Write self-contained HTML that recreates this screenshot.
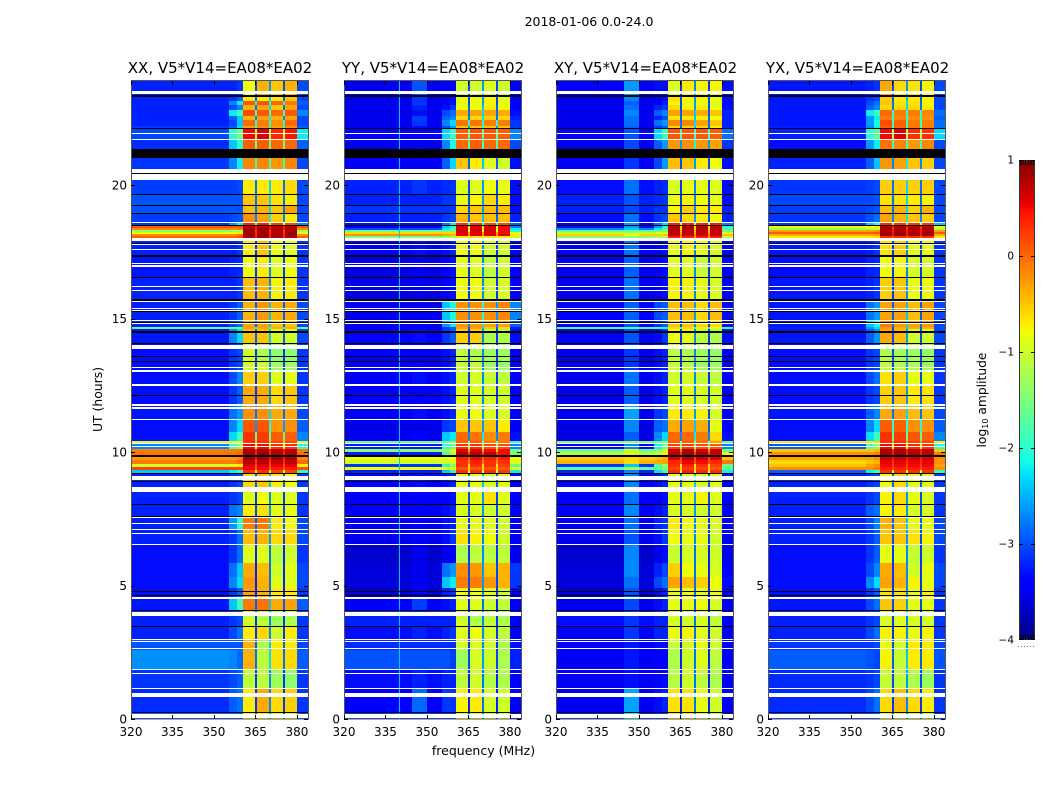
<!DOCTYPE html>
<html lang="en">
<head>
<meta charset="utf-8">
<title>2018-01-06 0.0-24.0 amplitude spectrograms</title>
<style>
html,body{margin:0;padding:0;background:#fff;}
svg{display:block;font-family:"DejaVu Sans","Liberation Sans",sans-serif;}
</style>
</head>
<body>
<svg id="fig" width="1050" height="800" viewBox="0 0 1050 800" xmlns="http://www.w3.org/2000/svg">
  <rect x="0" y="0" width="1050" height="800" fill="#ffffff"/>
  <text x="589" y="26" font-size="12.5" text-anchor="middle" fill="#000">2018-01-06 0.0-24.0</text>
  <text x="220" y="73" font-size="15" text-anchor="middle" fill="#000">XX, V5*V14=EA08*EA02</text>
  <text x="433" y="73" font-size="15" text-anchor="middle" fill="#000">YY, V5*V14=EA08*EA02</text>
  <text x="645.5" y="73" font-size="15" text-anchor="middle" fill="#000">XY, V5*V14=EA08*EA02</text>
  <text x="857.5" y="73" font-size="15" text-anchor="middle" fill="#000">YX, V5*V14=EA08*EA02</text>
  <text x="483.5" y="755" font-size="12.5" text-anchor="middle" fill="#000">frequency (MHz)</text>
  <text transform="translate(102,399.5) rotate(-90)" font-size="12.4" text-anchor="middle" fill="#000">UT (hours)</text>
  <text transform="translate(986,400) rotate(-90)" font-size="12.3" text-anchor="middle" fill="#000">log<tspan font-size="8" dy="2">10</tspan><tspan dy="-2"> amplitude</tspan></text>
  <g id="panels"></g>
  <g id="colorbar"></g>
</svg>
<script>
// UT hour boundaries of the level rows, newest at the top of the plot
const utEdges=[23.9,23.3,23.15,23,22.81,22.58,22.43,22.21,22.1,21.72,21.01,20.6,19.66,19.21,18.95,18.61,18.46,18.39,18.31,18.24,18.16,18.09,18.01,17.9,17.34,16.55,15.69,14.94,14.68,14.59,14.08,13.41,13.07,12.51,11.76,11.2,10.75,10.41,10.3,10.11,10,9.85,9.7,9.55,9.44,9.33,9.21,8.5,8.05,7.57,7.12,6.52,5.84,5.32,4.91,4.57,4.08,3.48,2.96,2.58,1.87,1.16,0.26,0];
// Frequency boundaries (MHz): background, two skirt columns, band 1, slit, band 2, slit, band 3, slit, band 4, outer
const freqEdges=[320,355.5,358.5,360.6,365,365.7,370,370.6,374.9,375.6,379.9,384];
// Each row: background, skirt A, skirt B, band 1-4, outer, slit (log10 amplitude)
const xxLevels=[
[-3.1,-3.1,-3,-.8,-.4,-.5,-.4,-2.9,-2.5],[-3.1,-3,-2.8,-.7,-.7,-.7,-.5,-2.9,-2.4],[-3.1,-2.6,-2.2,.1,.1,0,-.1,-2.8,-2],[-3.1,-2.9,-2.6,-.4,-.3,-.5,-.3,-2.9,-2.3],
[-3.1,-2.2,-1.9,.15,.1,0,.1,-2.6,-1.8],[-3.1,-2.8,-2.4,-.4,-.3,-.4,-.3,-2.9,-2.2],[-3.1,-2.9,-2.4,0,-.1,-.2,0,-2.9,-2],[-3,-2.8,-2.3,-.3,-.2,-.3,-.2,-2.8,-2],
[-2.9,-2,-1.6,.5,.6,.35,.45,-2.2,-1],[-3.05,-2.4,-2,.05,.05,0,0,-2.8,-1.6],[-3,-2.6,-2.2,-.15,-.15,-.25,-.15,-2.9,-1.9],[-2.95,-2.95,-2.9,-.7,-.7,-.7,-.6,-2.9,-2.3],
[-2.85,-2.85,-2.85,-.5,-.5,-.65,-.7,-2.9,-2.3],[-2.85,-2.85,-2.85,-.45,-.4,-.5,-.3,-2.9,-2.3],[-2.95,-2.9,-2.85,-.2,-.3,-.55,-.7,-2.9,-2.2],[-3,-2.5,-2.2,.4,.4,.25,.2,-2.6,-1],
[.1,.1,.1,.8,.8,.75,.75,.1,.4],[-.2,-.2,-.1,.8,.85,.75,.8,-.2,.4],[-1.4,-1.3,-1.2,.85,.85,.8,.85,-1.3,.3],[-.8,-.8,-.7,.85,.85,.8,.85,-.8,.3],
[-.2,-.2,-.1,.85,.85,.8,.85,-.2,.4],[.05,.05,.1,.8,.85,.8,.8,.05,.3],[-2.6,-2.6,-2.5,-.6,-.5,-.8,-.8,-2.6,-1.5],[-3.1,-3.1,-3,-.7,-.5,-.8,-.9,-3,-2.6],
[-3.15,-3.1,-3.05,-.8,-.7,-.9,-.8,-3,-2.6],[-3.1,-3.1,-3,-.45,-.4,-.75,-.7,-3,-2.6],[-3.1,-3,-2.8,-.4,-.25,-.4,-.35,-2.9,-2.4],[-3.1,-2.9,-2.7,-.3,-.3,-.5,-.5,-2.9,-2.4],
[-1.6,-1.6,-1.6,-.3,-.3,-.4,-.4,-1.6,-1.8],[-3.15,-2.6,-2.3,-.5,-.5,-.95,-1,-2.9,-2.4],[-3.2,-3,-2.9,-1,-1.2,-1.4,-1.4,-3,-2.6],[-3.2,-3,-2.9,-.95,-1,-1.3,-1.3,-3,-2.5],
[-3.2,-2.9,-2.6,-.55,-.55,-.9,-.85,-3,-2.6],[-3.2,-3,-2.8,-.35,-.35,-.6,-.5,-3,-2.6],[-3.15,-2.7,-2.5,-.2,-.2,-.35,-.35,-2.9,-2.3],[-3.2,-2.6,-2.3,.1,.1,-.25,-.2,-2.8,-2.1],
[-3.2,-2.3,-1.9,.3,.25,.05,.05,-2.6,-1.7],[-.9,-.9,-.8,.3,.3,.15,.15,-.9,-.4],[-2.6,-1.8,-1.4,.5,.5,.3,.3,-2,-1],[-.1,-.1,-.05,.85,.85,.75,.75,-.1,.4],
[-.05,-.05,0,.85,.9,.8,.8,0,.4],[-.25,-.25,-.15,.85,.85,.85,.8,-.15,.4],[-.1,-.1,0,.75,.75,.7,.7,0,.3],[-1,-.9,-.7,.6,.6,.55,.55,-.7,.1],
[.2,.2,.2,.5,.5,.4,.4,.15,.1],[-2.4,-2.2,-1.9,.3,.3,.2,.2,-2,-.8],[-3.1,-3,-2.9,-.6,-.5,-.7,-.8,-3,-2.4],[-3.1,-3,-2.9,-.9,-.8,-.9,-.9,-3,-2.6],
[-3.1,-2.7,-2.6,-.7,-.65,-.85,-.85,-3,-2.5],[-3.1,-2.5,-2,-.1,-.1,-.7,-.8,-2.9,-2.4],[-3.1,-3,-2.7,-.45,-.4,-.6,-.6,-2.9,-2.5],[-3.2,-3,-2.7,-.9,-.9,-1.1,-1,-3,-2.7],
[-3.2,-2.7,-2.4,-.35,-.45,-1,-.9,-2.9,-2.7],[-3.2,-2.6,-2.3,-.25,-.4,-.9,-.9,-2.9,-2.7],[-3.2,-3,-2.8,-.3,-.4,-.7,-.7,-3,-2.7],[-3.15,-2.4,-1.9,-.1,-.05,-.35,-.3,-2.8,-2.4],
[-3.1,-3,-2.9,-1,-1.1,-1.3,-1.2,-3,-2.6],[-3.1,-2.9,-2.7,-.7,-.6,-1,-.7,-3,-2.6],[-2.85,-2.85,-2.85,-.4,-1.2,-.7,-.7,-2.9,-2.4],[-2.55,-2.6,-2.75,-.4,-1.1,-.65,-.6,-2.8,-2.3],
[-3,-2.9,-2.8,-1.1,-1.1,-1.3,-1.4,-3,-2.6],[-3.05,-2.8,-2.7,-.7,-.35,-.6,-.55,-3,-2.6],[-2.75,-2.75,-2.75,-.8,-.8,-.9,-1,-2.85,-2.5]
];
const yyLevels=[
[-3.4,-3.3,-3.3,-1,-1,-.9,-1,-3.3,-2.5],[-3.4,-3.3,-3.2,-.85,-.85,-.75,-.85,-3.3,-2.5],[-3.4,-3.3,-3.2,-.85,-.85,-.75,-.85,-3.3,-2.5],[-3.4,-3.2,-3,-.8,-.8,-.7,-.8,-3.3,-2.4],
[-3.4,-2.9,-2.7,-.35,-.3,-.3,-.35,-3.2,-2.3],[-3.4,-2.8,-2.6,-.6,-.6,-.55,-.6,-3.1,-2.3],[-3.4,-2.6,-2.3,-.05,-.05,-.1,-.1,-3,-2],[-3.4,-2.9,-2.5,-.5,-.5,-.5,-.5,-3,-2.1],
[-3.3,-2.3,-1.9,.05,.1,.1,.05,-2.6,-1.6],[-3.4,-2.6,-2.1,0,.05,0,0,-2.9,-1.8],[-3.35,-2.8,-2.3,-.5,-.7,-.9,-1,-3.2,-2.4],[-3.1,-3.05,-3,-.9,-.9,-.8,-.85,-3.2,-2.5],
[-3.1,-3,-3,-.85,-.75,-.6,-.7,-3.2,-2.5],[-3,-3,-3,-.6,-.5,-.45,-.45,-3.2,-2.5],[-3.1,-3,-2.9,-.4,-.5,-.45,-.45,-3.1,-2.4],[-3.2,-2.7,-2.2,.3,.3,.2,.2,-2.8,-1.5],
[-3.3,-2.4,-2,.6,.6,.6,.5,-2.6,-1],[-2.9,-2.2,-1.8,.6,.6,.6,.5,-2.2,-1],[-1.6,-1.6,-1.5,.6,.6,.6,.5,-2,-.8],[-.6,-.6,-.6,.6,.6,.6,.5,-.8,-.3],
[-.2,-.3,-.4,.6,.6,.6,.6,-.7,-.2],[-1.5,-1.4,-1.2,-.7,-.7,-.7,-.7,-1,-.7],[-3,-3,-3,-.9,-.9,-.9,-.9,-3.1,-2.2],[-3.3,-3.2,-3.1,-.8,-.8,-1,-1,-3.3,-2.6],
[-3.45,-3.3,-3.2,-.85,-.9,-1.1,-1,-3.3,-2.6],[-3.45,-3.3,-3.2,-.8,-.8,-1,-.95,-3.3,-2.6],[-3.4,-2.4,-2.1,-.2,-.2,-.2,-.15,-2.6,-2.1],[-3.4,-2.5,-2.2,-.25,-.25,-.3,-.3,-2.8,-2.2],
[-3.35,-3,-2.8,-.3,-.3,-.5,-.6,-3.1,-2.4],[-3.3,-3,-2.8,-.55,-.55,-1.2,-1.2,-3.2,-2.6],[-3.3,-3.2,-3.1,-1.1,-1.2,-1.3,-1.3,-3.3,-2.6],[-3.35,-3.2,-3.1,-1.05,-1.05,-1.3,-1.35,-3.3,-2.6],
[-3.35,-3.2,-3.1,-1,-.95,-1.05,-1.1,-3.3,-2.6],[-3.35,-3.2,-3.1,-.9,-.9,-.95,-1,-3.3,-2.6],[-3.35,-3.2,-3.1,-.85,-.8,-.9,-.95,-3.3,-2.6],[-3.4,-3,-2.9,-.5,-.5,-.5,-.7,-3.3,-2.5],
[-3.4,-2.4,-2.2,0,-.05,-.2,-.1,-3.2,-2.2],[-1.6,-1.6,-1.4,.05,.05,-.1,-.1,-1.9,-1.2],[-3.1,-2,-1.6,.3,.3,.15,.15,-2.6,-1.3],[-1.4,-1.2,-.9,.6,.6,.5,.5,-1.5,-.5],
[-3.1,-1.8,-1.2,.75,.75,.7,.5,-1.6,.2],[-.8,-.8,-.8,.4,.5,.4,.4,-.8,0],[-1,-1,-1,.3,.4,.3,.3,-.9,-.2],[-3,-2,-1.4,.3,.3,.3,.2,-1.6,-.7],
[-.8,-.8,-.8,.1,.1,.1,.05,-.9,-.5],[-3.1,-2.4,-2,.3,.3,.3,.25,-2.2,-.9],[-3.3,-3.2,-3.1,-.85,-.85,-.95,-.9,-3.3,-2.4],[-3.35,-3.3,-3.2,-.85,-.85,-.65,-.9,-3.3,-2.5],
[-3.35,-3.2,-3.1,-.95,-.95,-1,-1,-3.3,-2.5],[-3.4,-3.2,-3.1,-.85,-.85,-.9,-1,-3.3,-2.6],[-3.4,-3.2,-3,-.65,-.75,-.8,-1,-3.3,-2.6],[-3.55,-3.4,-3.3,-1.2,-1.1,-1.1,-1.1,-3.4,-2.6],
[-3.5,-2.7,-2.5,-.2,-.25,-.5,-.4,-3,-2.5],[-3.5,-2.4,-2.2,-.1,-.1,-.25,-.4,-3,-2.5],[-3.5,-3.1,-3,-.8,-.8,-.9,-1,-3.3,-2.6],[-3.3,-3.2,-3.1,-.9,-.9,-1,-1.1,-3.3,-2.7],
[-3.1,-3.1,-3.1,-1,-1.2,-1.1,-1.2,-3.3,-2.6],[-3.2,-3.1,-3,-.9,-.8,-.95,-1.1,-3.3,-2.6],[-3.05,-3.05,-3.05,-1,-.95,-1,-1.2,-3.2,-2.6],[-2.85,-2.85,-2.95,-1.3,-.95,-1,-1.2,-3.1,-2.5],
[-3.2,-3.1,-3.1,-1.1,-1,-1.15,-1.2,-3.3,-2.7],[-3.35,-3,-3,-.75,-.7,-.95,-1,-3.3,-2.7],[-2.95,-3,-3,-.8,-.9,-.9,-.9,-3.2,-2.6]
];
const xyLevels=[
[-3.3,-3.2,-3.2,-.9,-.7,-.75,-.75,-3.2,-2.6],[-3.4,-3.3,-3.2,-.65,-.75,-.75,-.85,-3.2,-2.5],[-3.4,-3.3,-3.1,-.75,-.85,-.85,-.9,-3.2,-2.5],[-3.4,-3.1,-3,-.6,-.75,-.7,-.85,-3.2,-2.5],
[-3.4,-2.8,-2.6,-.3,-.3,-.35,-.5,-3.1,-2.4],[-3.4,-3.1,-2.9,-.7,-.7,-.7,-.8,-3.1,-2.4],[-3.4,-2.7,-2.5,-.15,-.15,-.3,-.5,-3.1,-2.3],[-3.4,-3,-2.8,-.6,-.6,-.6,-.7,-3.1,-2.4],
[-3.3,-2.3,-1.9,.1,.1,.1,.05,-2.7,-1.8],[-3.4,-2.8,-2.5,-.25,-.2,-.25,-.3,-3,-2.1],[-3.35,-2.9,-2.5,-.45,-.5,-.7,-.8,-3.2,-2.5],[-3.2,-3.1,-3.05,-.95,-.85,-.85,-.9,-3.2,-2.6],
[-3.1,-3.05,-3,-.85,-.75,-.8,-.85,-3.2,-2.6],[-3.1,-3,-3,-.75,-.55,-.7,-.7,-3.1,-2.6],[-3.2,-3,-2.9,-.5,-.6,-.7,-.8,-3.1,-2.5],[-3.3,-2.7,-2.3,.4,.4,.4,.4,-2.6,-1.2],
[-3.2,-2.5,-2.1,.75,.75,.75,.7,-2,-.6],[-2.6,-2.2,-1.8,.75,.75,.75,.7,-1.8,-.6],[-1.7,-1.6,-1.4,.75,.75,.75,.7,-1.5,-.5],[-1,-1,-.9,.7,.7,.7,.7,-.9,-.3],
[-.55,-.55,-.5,.7,.7,.7,.65,-.5,-.1],[-1.4,-1.3,-1.2,.4,.4,.4,.4,-1.1,-.3],[-3.1,-3,-3,-.85,-.85,-.85,-.85,-3.1,-2.4],[-3.3,-3.3,-3.2,-.85,-.75,-.85,-.95,-3.3,-2.6],
[-3.4,-3.3,-3.2,-.9,-.9,-1.05,-1,-3.3,-2.6],[-3.4,-3.3,-3.2,-.75,-.75,-.85,-.95,-3.3,-2.6],[-3.3,-2.9,-2.8,-.45,-.45,-.6,-.45,-3.2,-2.5],[-3.3,-3,-2.8,-.5,-.5,-.6,-.6,-3.2,-2.5],
[-1.8,-1.9,-2,-.6,-.6,-.7,-.8,-1.9,-2],[-3.35,-3.2,-3,-.8,-.85,-1.1,-1.2,-3.2,-2.6],[-3.4,-3.2,-3.1,-1.1,-1.2,-1.3,-1.35,-3.3,-2.6],[-3.4,-3.2,-3.1,-1.05,-1.1,-1.3,-1.3,-3.3,-2.6],
[-3.4,-3.2,-3.1,-1,-.95,-1.05,-1.1,-3.3,-2.6],[-3.4,-3.2,-3.1,-.9,-.9,-.95,-1,-3.3,-2.6],[-3.4,-3,-2.9,-.7,-.7,-.75,-.95,-3.3,-2.5],[-3.45,-2.8,-2.7,-.35,-.3,-.35,-.85,-3.3,-2.4],
[-3.45,-2.6,-2.3,0,0,-.1,-.6,-3.2,-2.2],[-1.5,-1.5,-1.3,.05,.05,-.05,-.3,-1.6,-1.1],[-3.3,-2.2,-1.6,.2,.25,.15,.1,-2.6,-1.4],[-1.6,-1.4,-1,.7,.8,.65,.7,-1.5,-.2],
[-1.2,-1.1,-.7,.75,.85,.8,.7,-.8,.2],[-.55,-.5,-.4,.6,.8,.7,.6,-.5,.2],[-.4,-.35,-.3,.35,.55,.5,.35,-.1,.1],[-3,-1.8,-1.3,.3,.4,.3,.2,-1.6,-.6],
[-1.7,-1.6,-1.5,.2,.25,.2,.1,-1.7,-.5],[-3.1,-2.3,-1.9,.35,.4,.35,.3,-2.2,-.9],[-3.3,-3.2,-3.1,-.85,-.85,-.95,-.9,-3.3,-2.4],[-3.35,-3.3,-3.2,-.85,-.85,-.75,-.9,-3.3,-2.5],
[-3.35,-3.2,-3.1,-.95,-.95,-1,-1,-3.3,-2.5],[-3.4,-3.1,-3,-.7,-.8,-.85,-.95,-3.3,-2.6],[-3.4,-3.2,-3,-.8,-.85,-.85,-1,-3.3,-2.6],[-3.55,-3.4,-3.2,-1.05,-.95,-.95,-1,-3.4,-2.7],
[-3.5,-3.1,-2.9,-.55,-.8,-.85,-.95,-3.3,-2.7],[-3.5,-2.9,-2.7,-.3,-.45,-.55,-.8,-3.2,-2.7],[-3.5,-3.2,-3.1,-.85,-.8,-.85,-.85,-3.3,-2.7],[-3.4,-3.2,-3.1,-.85,-.85,-.8,-.95,-3.3,-2.8],
[-3.2,-3.1,-3.1,-.95,-1,-.95,-1.1,-3.3,-2.7],[-3.3,-3.1,-3.1,-.85,-.75,-.9,-1,-3.3,-2.7],[-3.3,-3.2,-3.2,-1.05,-.95,-.85,-1,-3.3,-2.7],[-3.35,-3.25,-3.25,-1.2,-1,-.9,-1.1,-3.3,-2.7],
[-3.35,-3.25,-3.2,-1.15,-1,-1.1,-1.2,-3.3,-2.7],[-3.4,-3.2,-3.1,-.65,-.65,-.85,-1,-3.3,-2.7],[-3.1,-3,-3,-.7,-.7,-.85,-.95,-3.2,-2.6]
];
const yxLevels=[
[-3.15,-3.1,-3,-.35,-.6,-.65,-.75,-2.9,-2.5],[-3.15,-3,-2.9,-.55,-.7,-.7,-.75,-2.9,-2.4],[-3.15,-2.9,-2.7,-.5,-.65,-.65,-.75,-2.9,-2.3],[-3.15,-2.8,-2.6,-.6,-.6,-.6,-.7,-2.9,-2.3],
[-3.15,-2.2,-1.9,0,-.1,-.1,-.15,-2.7,-1.9],[-3.15,-2.5,-2.2,-.1,-.15,-.2,-.2,-2.8,-2],[-3.15,-2.5,-2.1,.15,.05,-.1,-.1,-2.7,-1.9],[-3.1,-2.6,-2.2,.05,0,-.1,-.1,-2.7,-1.8],
[-3.1,-2,-1.7,.5,.6,.3,.3,-2.3,-1.2],[-3.2,-2.5,-2.2,-.05,-.15,-.25,-.15,-2.9,-1.9],[-3.1,-2.8,-2.4,-.25,-.3,-.5,-.55,-2.9,-2.2],[-3,-2.95,-2.9,-.55,-.55,-.55,-.55,-2.9,-2.3],
[-2.9,-2.9,-2.85,-.65,-.65,-.7,-.75,-2.9,-2.3],[-2.95,-2.9,-2.85,-.45,-.4,-.55,-.4,-2.9,-2.3],[-3,-2.85,-2.7,-.3,-.4,-.5,-.55,-2.9,-2.2],[-3,-2.4,-2,.3,.3,.25,.25,-2.4,-1],
[-.8,-.8,-.7,.8,.8,.75,.75,-.9,.3],[-1.3,-1.2,-1,.8,.8,.75,.8,-1.2,.3],[-.3,-.3,-.2,.8,.85,.8,.8,-.3,.4],[.05,.05,.1,.85,.85,.8,.85,.05,.4],
[-.35,-.35,-.3,.85,.85,.8,.85,-.35,.4],[-.7,-.7,-.6,.3,.3,.3,.3,-.7,.1],[-2.8,-2.8,-2.7,-.4,-.4,-.7,-.7,-2.8,-1.8],[-3.15,-3.1,-3,-.65,-.55,-.85,-.85,-3,-2.6],
[-3.2,-3.1,-3.05,-.8,-.75,-.95,-.95,-3,-2.6],[-3.15,-3.1,-3,-.55,-.5,-.85,-.8,-3,-2.6],[-3.15,-2.7,-2.5,-.3,-.3,-.45,-.3,-2.9,-2.4],[-3.15,-2.4,-2.1,-.1,-.25,-.3,-.25,-2.9,-2.3],
[-3.1,-2.5,-2.3,-.25,-.35,-.35,-.4,-2.9,-2.4],[-3.15,-2.8,-2.5,-.35,-.45,-1,-1,-2.9,-2.5],[-3.2,-3,-2.9,-1.2,-1.25,-1.3,-1.35,-3,-2.5],[-3.2,-3,-2.9,-1.1,-1.15,-1.2,-1.3,-3,-2.5],
[-3.2,-2.9,-2.7,-.65,-.55,-.85,-.85,-3,-2.5],[-3.2,-3,-2.9,-.55,-.5,-.7,-.65,-3,-2.5],[-3.15,-2.8,-2.6,-.35,-.3,-.45,-.5,-2.9,-2.3],[-3.2,-2.6,-2.3,.05,.05,-.2,-.2,-2.8,-2],
[-3.2,-2.3,-1.9,.3,.25,.1,.05,-2.6,-1.7],[-.7,-.7,-.6,.3,.3,.2,.15,-.7,-.3],[-2.8,-1.8,-1.4,.5,.5,.35,.3,-2,-1],[-.5,-.5,-.4,.85,.85,.75,.75,-.5,.4],
[-.2,-.2,-.1,.85,.85,.8,.75,-.1,.4],[-.3,-.3,-.2,.7,.7,.65,.65,-.2,.4],[-.6,-.5,-.4,.55,.55,.55,.55,-.2,.3],[-.5,-.3,-.2,.5,.5,.5,.5,-.3,.2],
[-.2,-.2,-.1,.4,.4,.4,.4,-.2,.2],[-2.8,-2.2,-1.8,.3,.3,.3,.3,-2,-.9],[-3.1,-3,-2.9,-.8,-.6,-.85,-.9,-3,-2.4],[-3.1,-3,-2.9,-.75,-.6,-.85,-.95,-3,-2.5],
[-3.1,-2.8,-2.7,-.75,-.7,-.95,-.95,-3,-2.5],[-3.1,-2.9,-2.6,-.4,-.5,-.85,-.85,-2.9,-2.4],[-3.1,-3,-2.8,-.5,-.5,-.65,-.75,-2.9,-2.5],[-3.2,-3,-2.8,-.85,-.85,-1.05,-1,-3,-2.6],
[-3.2,-2.9,-2.6,-.35,-.45,-1,-.85,-2.9,-2.6],[-3.2,-2.6,-2.3,-.3,-.4,-.75,-.85,-2.9,-2.6],[-3.2,-3,-2.8,-.65,-.65,-.85,-.75,-3,-2.6],[-3.15,-2.9,-2.7,-.5,-.55,-.85,-.85,-3,-2.5],
[-3.1,-3,-2.9,-.95,-.9,-.95,-1,-3,-2.6],[-3.1,-2.9,-2.7,-.75,-.75,-.85,-.75,-3,-2.6],[-3,-3,-2.9,-.85,-1,-.7,-.7,-2.9,-2.5],[-2.8,-2.85,-2.9,-.75,-1.05,-.7,-.7,-2.85,-2.4],
[-3.05,-3,-2.9,-1.05,-1.1,-1.2,-1.3,-3,-2.5],[-3.05,-2.9,-2.7,-.6,-.45,-.6,-.7,-3,-2.6],[-2.9,-2.9,-2.8,-.8,-.8,-.9,-1,-3,-2.5]
];
// Levels of the 344.5-350 MHz interference patch, one per row
const patchEdges=[344.5,350];
const xyPatchLevels=[-2.5,-2.6,-2.8,-2.7,-2.6,-2.7,-2.7,-2.8,-2.85,-2.9,-3,-2.7,-2.85,-2.9,-2.7,-2.5,-2.45,-2.35,-1.6,-1.2,-.8,-1.4,-2.7,-2.7,-2.8,-2.7,-2.8,-2.85,-1.8,-2.85,-3,-3,-2.7,-2.8,-2.45,-2.6,-2.8,-1.3,-2.6,-.9,-1,-.6,-.6,-2.4,-1.2,-2.6,-2.6,-2.7,-2.6,-2.7,-2.85,-2.6,-2.6,-2.7,-2.85,-2.9,-3,-3,-3.15,-3.15,-3.2,-2.45,-2.15];
const yyPatchLevels=[-2.85,-3,-3,-3.1,-3.2,-2.95,-3,-3.2,-3.3,-3.3,-3.3,-3,-3.1,-3,-3.1,-3.2,-3.3,-2.9,-1.6,-.6,-.2,-1.5,-3,-3.2,-3.4,-3.4,-3.4,-3.3,-3.3,-3.2,-3.3,-3.3,-3.2,-3.3,-3.2,-3.4,-3.3,-1.6,-3.1,-1.4,-3.1,-.8,-1,-3,-.8,-3.1,-3.2,-3.3,-3.3,-3.3,-3.3,-3.4,-3.4,-3.4,-3.3,-2.95,-3.1,-3.1,-3.05,-2.85,-3.1,-2.75,-2.95];
// Persistent single-channel interference in YY
const yyRfiFreqs=[340];
const yyRfiLevels=[-2.4];
// Flagged (blank) intervals in UT hours: upper and lower bound
const whiteFlagTop=[23.52,21.95,21.72,20.61,20.41,18.63,18,17.78,17.62,17.08,16.99,16.23,16.06,15.67,15.39,15.32,14.94,14.83,14.01,13.18,13.07,12.53,11.78,11.67,11.22,10.33,10.22,9.11,8.7,7.58,7.34,7.12,6.97,6.54,4.57,4.02,3,2.92,2.66,1.88,1.73,1.17,.99,.18];
const whiteFlagBottom=[23.39,21.91,21.69,20.44,20.19,18.6,17.91,17.74,17.58,17.04,16.94,16.19,16.02,15.62,15.36,15.28,14.9,14.79,13.86,13.15,13.01,12.49,11.72,11.61,11.18,10.29,10.19,8.95,8.51,7.54,7.3,7.08,6.93,6.5,4.51,3.86,2.96,2.88,2.62,1.84,1.69,1.12,.84,.03];
// Zero-amplitude intervals in UT hours
const blackTop=[23.37,22.13,21.35,20.44,19.68,19.25,18.96,18.5,17.84,17.38,16.55,15.73,15.28,14.88,14.53,14.08,13.6,13.4,12.13,9.87,9.22,8.92,8.06,7.6,4.8,4.64,4.1,3.49,.27];
const blackBottom=[23.31,22.08,21.02,20.41,19.64,19.21,18.91,18.46,17.8,17.3,16.51,15.66,15.24,14.85,14.46,14.04,13.56,13.36,12.1,9.83,9.18,8.88,8.02,7.57,4.74,4.59,4.03,3.45,.22];
// Axis ticks
const freqTicks=[320,335,350,365,380];
const utTicks=[0,5,10,15,20];
const colorbarTicks=[1,0,-1,-2,-3,-4];
const colorbarTickLabels=['1','0','\u22121','\u22122','\u22123','\u22124'];

const NS='http://www.w3.org/2000/svg';
const panelLefts=[131,344,556,768];
const panelWidth=177;
const yTop=81,yBottom=719;
const pxPerHour=26.7,pxPerMHz=177/64;
function yOfUt(h){return yBottom-h*pxPerHour;}
function xOfFreq(left,f){return left+(f-320)*pxPerMHz;}
function clamp01(v){return Math.max(0,Math.min(1,v));}
function jet(level){
  const t=clamp01((level+4)/5);
  const r=t<.35?0:t<.66?(t-.35)/.31:t<.89?1:1-(t-.89)/.11*.5;
  const g=t<.125?0:t<.375?(t-.125)/.25:t<.64?1:t<.91?1-(t-.64)/.27:0;
  const b=t<.11?.5+t/.11*.5:t<.34?1:t<.65?1-(t-.34)/.31:0;
  return 'rgb('+Math.round(r*255)+','+Math.round(g*255)+','+Math.round(b*255)+')';
}
// Faint levels read slightly dark once the original's pixel noise averages out
function cellColor(level){return jet(level<-2.4?level-.12:level);}
function rect(parent,x0,y0,x1,y1,fill){
  const el=document.createElementNS(NS,'rect');
  const xa=Math.round(x0),ya=Math.round(y0);
  el.setAttribute('x',xa);
  el.setAttribute('y',ya);
  el.setAttribute('width',Math.max(1,Math.round(x1)-xa));
  el.setAttribute('height',Math.max(1,Math.round(y1)-ya));
  el.setAttribute('fill',fill);
  el.setAttribute('shape-rendering','crispEdges');
  parent.appendChild(el);
  return el;
}
function line(parent,x0,y0,x1,y1,color){
  const el=document.createElementNS(NS,'line');
  el.setAttribute('x1',x0);
  el.setAttribute('y1',y0);
  el.setAttribute('x2',x1);
  el.setAttribute('y2',y1);
  el.setAttribute('stroke',color);
  el.setAttribute('stroke-width','1');
  el.setAttribute('shape-rendering','crispEdges');
  parent.appendChild(el);
  return el;
}
function label(parent,x,y,str,anchor,size){
  const el=document.createElementNS(NS,'text');
  el.setAttribute('x',x);
  el.setAttribute('y',y);
  el.setAttribute('text-anchor',anchor);
  el.setAttribute('font-size',size);
  el.setAttribute('fill','#000');
  el.textContent=str;
  parent.appendChild(el);
  return el;
}
// Column order inside a row -> index into a row's values
const columnValue=[0,1,2,3,8,4,8,5,8,6,7];
// The outer two slits sit deeper than the middle slit when they are faint
const slitDepth={4:-.4,6:0,8:-.4};
function drawPanel(left,levels,patch,rfiF,rfiL){
  const g=document.createElementNS(NS,'g');
  
  
  document.getElementById('panels').appendChild(g);
  levels.forEach(function(row,r){
    const y0=yOfUt(utEdges[r]),y1=yOfUt(utEdges[r+1]);
    columnValue.forEach(function(vi,c){
      let v=row[vi];
      if(vi===8&&v<-2){v+=slitDepth[c];}
      const cell=rect(g,xOfFreq(left,freqEdges[c]),y0,xOfFreq(left,freqEdges[c+1]),y1,cellColor(v));
      
      
    });
    if(patch){
      const p=rect(g,xOfFreq(left,patchEdges[0]),y0,xOfFreq(left,patchEdges[1]),y1,cellColor(patch[r]));
      
      
    }
  });
  if(rfiF){
    rfiF.forEach(function(f,i){
      const xr=xOfFreq(left,f);
      const l=rect(g,xr,yTop,xr+1,yBottom,jet(rfiL[i]));
      
      
    });
  }
  whiteFlagTop.forEach(function(h,i){
    const w=rect(g,left,yOfUt(h),left+panelWidth,yOfUt(whiteFlagBottom[i]),'#ffffff');
    
    
  });
  blackTop.forEach(function(h,i){
    const k=rect(g,left,yOfUt(h),left+panelWidth,yOfUt(blackBottom[i]),'#000000');
    
    
  });
  const frame=document.createElementNS(NS,'rect');
  frame.setAttribute('x',left+.5);
  frame.setAttribute('y',yTop-.5);
  frame.setAttribute('width',panelWidth);
  frame.setAttribute('height',yBottom-yTop+.5);
  frame.setAttribute('fill','none');
  frame.setAttribute('stroke','#555');
  frame.setAttribute('stroke-width','1');
  frame.setAttribute('shape-rendering','crispEdges');
  
  
  g.appendChild(frame);
  freqTicks.forEach(function(f){
    const x=Math.round(xOfFreq(left,f))+.5;
    const tb=line(g,x,yBottom,x,yBottom-4,'#000');
    
    
    const tt=line(g,x,yTop,x,yTop+4,'#000');
    
    
    const tl=label(g,xOfFreq(left,f),736,String(f),'middle',12);
    
    
  });
  utTicks.forEach(function(h){
    const y=Math.round(yOfUt(h))+.5;
    const tl=line(g,left,y,left+4,y,'#000');
    
    
    const tr=line(g,left+panelWidth-4,y,left+panelWidth,y,'#000');
    
    
    const tx=label(g,left-4,yOfUt(h)+4.5,String(h),'end',12);
    
    
  });
}
drawPanel(panelLefts[0],xxLevels,null,null,null);
drawPanel(panelLefts[1],yyLevels,yyPatchLevels,yyRfiFreqs,yyRfiLevels);
drawPanel(panelLefts[2],xyLevels,xyPatchLevels,null,null);
drawPanel(panelLefts[3],yxLevels,null,null,null);

// Colorbar
const cbLeft=1019,cbRight=1035,cbTop=160,cbBottom=640;
function yOfLevel(v){return cbTop+(1-v)*(cbBottom-cbTop)/5;}
const cb=document.getElementById('colorbar');
for(let py=cbTop;py<cbBottom;py+=2){
  const v=1-(py-cbTop+1)*5/(cbBottom-cbTop);
  const s=rect(cb,cbLeft,py,cbRight,py+2,jet(v));
  
  
}
const cbFrame=document.createElementNS(NS,'rect');
cbFrame.setAttribute('x',cbLeft+.5);
cbFrame.setAttribute('y',cbTop+.5);
cbFrame.setAttribute('width',cbRight-cbLeft-1);
cbFrame.setAttribute('height',cbBottom-cbTop-1);
cbFrame.setAttribute('fill','none');
cbFrame.setAttribute('stroke','#333');
cbFrame.setAttribute('stroke-width','1');
cbFrame.setAttribute('shape-rendering','crispEdges');


cb.appendChild(cbFrame);
colorbarTicks.forEach(function(v,i){
  const y=Math.min(cbBottom-1,Math.round(yOfLevel(v)))+.5;
  const a=line(cb,cbLeft,y,cbLeft+4,y,'#000');
  
  
  const b=line(cb,cbRight-4,y,cbRight,y,'#000');
  
  
  const t=label(cb,1014,yOfLevel(v)+3.5,colorbarTickLabels[i],'end',10.5);
  
  
});
for(let i=0;i<6;i++){
  const hx=cbLeft+1.5+i*2.6;
  const ht=line(cb,hx,cbTop,hx,cbTop+5,'#000');
  
  
  const hb=line(cb,hx,cbBottom-5,hx,cbBottom,'#000');
  
  
}
const cbDots=line(cb,1018,646.5,1035,646.5,'#777');
cbDots.setAttribute('stroke-dasharray','1 2');


</script>
</body>
</html>
